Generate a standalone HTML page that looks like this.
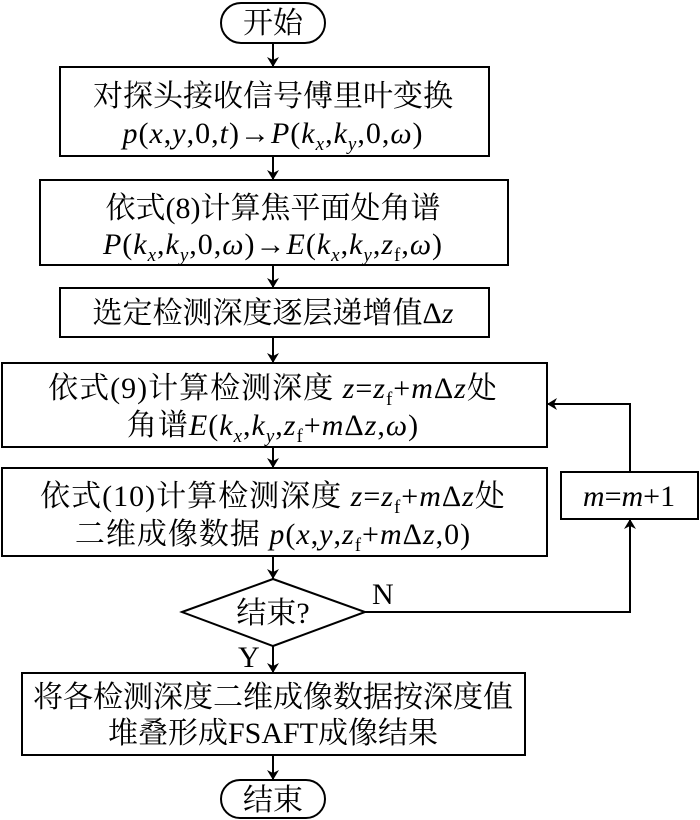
<!DOCTYPE html>
<html><head><meta charset="utf-8"><style>
html,body{margin:0;padding:0;background:#fff;}
svg{display:block;}
text{font-family:"Liberation Serif","Noto Serif CJK SC",serif;font-size:30px;fill:#000;}
.i{font-style:italic;}
.s{font-size:19px;}
.f{letter-spacing:1px;}
</style></head><body>
<svg width="700" height="820" viewBox="0 0 700 820" xmlns="http://www.w3.org/2000/svg">
<defs><marker id="a" markerWidth="10" markerHeight="14" refX="10" refY="7" orient="auto" markerUnits="userSpaceOnUse"><path d="M0,1 L10,7 L0,13 L3,7 Z" fill="#000"/></marker></defs>
<g fill="none" stroke="#000" stroke-width="2">
<rect x="221" y="3" width="104" height="40" rx="20"/>
<rect x="60" y="67" width="429" height="89"/>
<rect x="40" y="180" width="468" height="85"/>
<rect x="60" y="288" width="429" height="49"/>
<rect x="2" y="363" width="545" height="84"/>
<rect x="2" y="468" width="545" height="88"/>
<rect x="561" y="472" width="137" height="47"/>
<polygon points="182,612 273,579 365,612 273,646"/>
<rect x="22" y="673" width="503" height="82"/>
<rect x="221" y="780" width="104" height="38" rx="19"/>
<line x1="273" y1="43" x2="273" y2="67" marker-end="url(#a)"/>
<line x1="273" y1="156" x2="273" y2="180" marker-end="url(#a)"/>
<line x1="273" y1="265" x2="273" y2="288" marker-end="url(#a)"/>
<line x1="273" y1="337" x2="273" y2="363" marker-end="url(#a)"/>
<line x1="273" y1="447" x2="273" y2="468" marker-end="url(#a)"/>
<line x1="273" y1="556" x2="273" y2="579" marker-end="url(#a)"/>
<line x1="273" y1="646" x2="273" y2="673" marker-end="url(#a)"/>
<line x1="273" y1="755" x2="273" y2="780" marker-end="url(#a)"/>
<polyline points="365,612 630,612 630,519" marker-end="url(#a)"/>
<polyline points="630,472 630,404 547,404" marker-end="url(#a)"/>
</g>
<text x="273" y="33" text-anchor="middle">开始</text>
<text x="273" y="106" text-anchor="middle">对探头接收信号傅里叶变换</text>
<text class="f" x="273" y="143" text-anchor="middle"><tspan class="i">p</tspan>(<tspan class="i">x</tspan>,<tspan class="i">y</tspan>,0,<tspan class="i">t</tspan>)→<tspan class="i">P</tspan>(<tspan class="i">k</tspan><tspan class="i s" dy="7">x</tspan><tspan dy="-7">,</tspan><tspan class="i">k</tspan><tspan class="i s" dy="7">y</tspan><tspan dy="-7">,0,</tspan><tspan class="i">ω</tspan>)</text>
<text x="273" y="218" text-anchor="middle">依式(8)计算焦平面处角谱</text>
<text class="f" x="273" y="254" text-anchor="middle"><tspan class="i">P</tspan>(<tspan class="i">k</tspan><tspan class="i s" dy="7">x</tspan><tspan dy="-7">,</tspan><tspan class="i">k</tspan><tspan class="i s" dy="7">y</tspan><tspan dy="-7">,0,</tspan><tspan class="i">ω</tspan>)→<tspan class="i">E</tspan>(<tspan class="i">k</tspan><tspan class="i s" dy="7">x</tspan><tspan dy="-7">,</tspan><tspan class="i">k</tspan><tspan class="i s" dy="7">y</tspan><tspan dy="-7">,</tspan><tspan class="i">z</tspan><tspan class="s" dy="7">f</tspan><tspan dy="-7">,</tspan><tspan class="i">ω</tspan>)</text>
<text x="273" y="323" text-anchor="middle">选定检测深度逐层递增值Δ<tspan class="i">z</tspan></text>
<text class="f" x="273" y="398" text-anchor="middle">依式(9)计算检测深度 <tspan class="i">z</tspan>=<tspan class="i">z</tspan><tspan class="s" dy="7">f</tspan><tspan dy="-7">+</tspan><tspan class="i">m</tspan>Δ<tspan class="i">z</tspan>处</text>
<text class="f" x="273" y="435" text-anchor="middle">角谱<tspan class="i">E</tspan>(<tspan class="i">k</tspan><tspan class="i s" dy="7">x</tspan><tspan dy="-7">,</tspan><tspan class="i">k</tspan><tspan class="i s" dy="7">y</tspan><tspan dy="-7">,</tspan><tspan class="i">z</tspan><tspan class="s" dy="7">f</tspan><tspan dy="-7">+</tspan><tspan class="i">m</tspan>Δ<tspan class="i">z</tspan>,<tspan class="i">ω</tspan>)</text>
<text class="f" x="273" y="506" text-anchor="middle">依式(10)计算检测深度 <tspan class="i">z</tspan>=<tspan class="i">z</tspan><tspan class="s" dy="7">f</tspan><tspan dy="-7">+</tspan><tspan class="i">m</tspan>Δ<tspan class="i">z</tspan>处</text>
<text class="f" x="273" y="544" text-anchor="middle">二维成像数据 <tspan class="i">p</tspan>(<tspan class="i">x</tspan>,<tspan class="i">y</tspan>,<tspan class="i">z</tspan><tspan class="s" dy="7">f</tspan><tspan dy="-7">+</tspan><tspan class="i">m</tspan>Δ<tspan class="i">z</tspan>,0)</text>
<text x="629" y="506" text-anchor="middle"><tspan class="i">m</tspan>=<tspan class="i">m</tspan>+1</text>
<text x="273" y="623" text-anchor="middle">结束?</text>
<text x="372" y="604">N</text>
<text x="238" y="667">Y</text>
<text x="273" y="707" text-anchor="middle">将各检测深度二维成像数据按深度值</text>
<text x="273" y="743" text-anchor="middle">堆叠形成FSAFT成像结果</text>
<text x="273" y="810" text-anchor="middle">结束</text>
</svg>
</body></html>
